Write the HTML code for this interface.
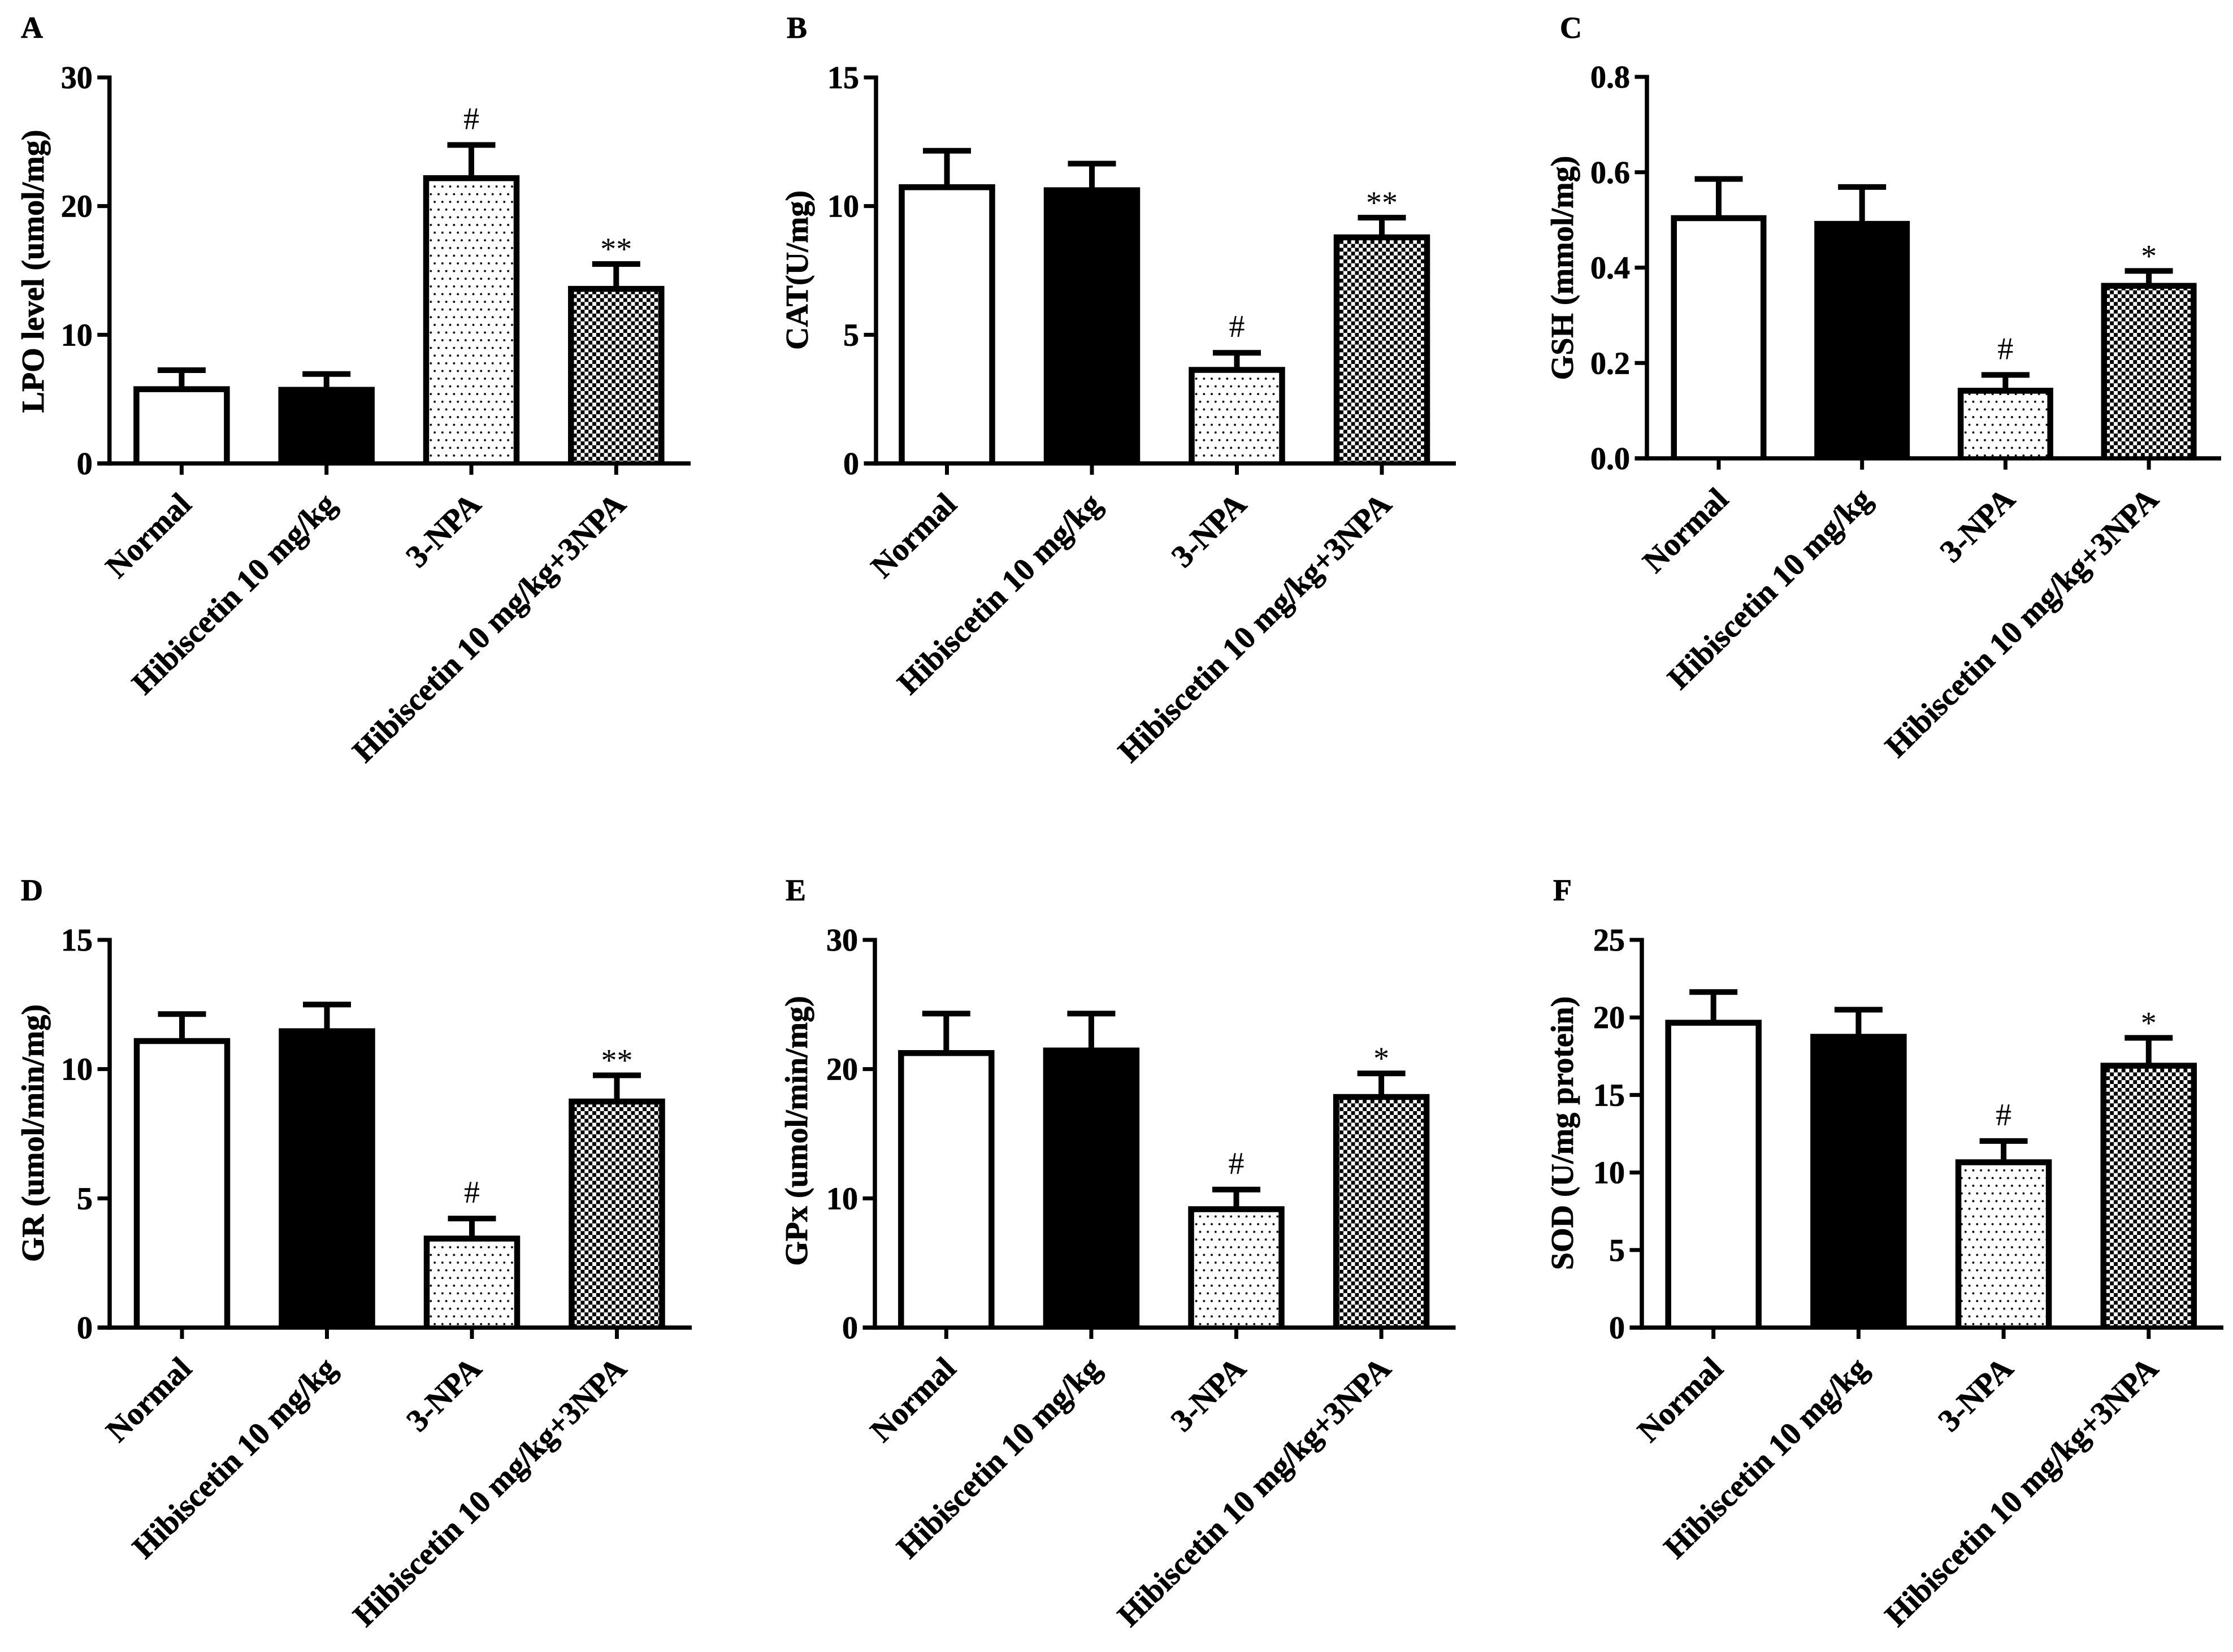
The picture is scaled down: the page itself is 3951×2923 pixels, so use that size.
<!DOCTYPE html>
<html lang="en">
<head>
<meta charset="utf-8">
<title>Oxidative stress markers</title>
<style>
  html, body { margin: 0; padding: 0; background: #fff; }
  svg { display: block; }
  text { font-family: "Liberation Serif", "DejaVu Serif", serif; fill: #000; }
  text[font-weight="bold"] { stroke: #000; stroke-width: 0.8px; }
</style>
</head>
<body>
<svg id="fig" xmlns="http://www.w3.org/2000/svg" width="3951" height="2923" viewBox="0 0 3951 2923">
  <defs>
    <pattern id="dots" patternUnits="userSpaceOnUse" x="758.9" y="326.6" width="13.68" height="27.2">
      <rect width="13.68" height="27.2" fill="#fff"/>
      <circle cx="10.24" cy="3.4" r="1.9" fill="#000"/>
      <circle cx="3.4" cy="17" r="1.9" fill="#000"/>
    </pattern>
    <pattern id="checker" patternUnits="userSpaceOnUse" x="0" y="0" width="13.7" height="13.7">
      <rect width="13.7" height="13.7" fill="#fff"/>
      <rect x="0" y="0" width="6.85" height="6.85" fill="#000"/>
      <rect x="6.85" y="6.85" width="6.85" height="6.85" fill="#000"/>
    </pattern>
  </defs>
</svg>
<script>
// ---- chart data ----
const categories = ["Normal", "Hibiscetin 10 mg/kg", "3-NPA", "Hibiscetin 10 mg/kg+3NPA"];

const lpoValues = [6.0, 5.95, 22.4, 13.8];
const lpoErrorTops = [7.25, 6.95, 24.75, 15.5];
const lpoTicks = ["0", "10", "20", "30"];
const lpoMarks = ["", "", "#", "**"];

const catValues = [10.85, 10.73, 3.75, 8.9];
const catErrorTops = [12.15, 11.65, 4.3, 9.55];
const catTicks = ["0", "5", "10", "15"];
const catMarks = ["", "", "#", "**"];

const gshValues = [0.51, 0.498, 0.148, 0.368];
const gshErrorTops = [0.586, 0.569, 0.175, 0.393];
const gshTicks = ["0.0", "0.2", "0.4", "0.6", "0.8"];
const gshMarks = ["", "", "#", "*"];

const grValues = [11.2, 11.58, 3.56, 8.86];
const grErrorTops = [12.13, 12.5, 4.22, 9.76];
const grTicks = ["0", "5", "10", "15"];
const grMarks = ["", "", "#", "**"];

const gpxValues = [21.47, 21.67, 9.39, 18.07];
const gpxErrorTops = [24.3, 24.3, 10.68, 19.67];
const gpxTicks = ["0", "10", "20", "30"];
const gpxMarks = ["", "", "#", "*"];

const sodValues = [19.85, 18.94, 10.85, 17.08];
const sodErrorTops = [21.64, 20.5, 12.03, 18.68];
const sodTicks = ["0", "5", "10", "15", "20", "25"];
const sodMarks = ["", "", "#", "*"];

// ---- panel layout ----
const panels = [
  { letter: "A", letterX: 37, letterY: 67, title: "LPO level (umol/mg)", titleX: 77, titleY: 480,
    values: lpoValues, errs: lpoErrorTops, ticks: lpoTicks, marks: lpoMarks,
    axisX: 193.7, top: 137, base: 820, endX: 1222, first: 321.4, step: 256.3, barW: 170.5 },
  { letter: "B", letterX: 1392, letterY: 67, title: "CAT(U/mg)", titleX: 1429, titleY: 478,
    values: catValues, errs: catErrorTops, ticks: catTicks, marks: catMarks,
    axisX: 1550, top: 137, base: 820, endX: 2576, first: 1675.5, step: 256.5, barW: 170.5 },
  { letter: "C", letterX: 2760, letterY: 67, title: "GSH (mmol/mg)", titleX: 2783, titleY: 474,
    values: gshValues, errs: gshErrorTops, ticks: gshTicks, marks: gshMarks,
    axisX: 2914, top: 136, base: 811, endX: 3930, first: 3041, step: 253.7, barW: 169 },
  { letter: "D", letterX: 37, letterY: 1593, title: "GR (umol/min/mg)", titleX: 77, titleY: 2005,
    values: grValues, errs: grErrorTops, ticks: grTicks, marks: grMarks,
    axisX: 194, top: 1663, base: 2349, endX: 1224, first: 322, step: 256.5, barW: 170.5 },
  { letter: "E", letterX: 1390, letterY: 1593, title: "GPx (umol/min/mg)", titleX: 1428, titleY: 2001,
    values: gpxValues, errs: gpxErrorTops, ticks: gpxTicks, marks: gpxMarks,
    axisX: 1548, top: 1663, base: 2349, endX: 2575.5, first: 1674.3, step: 256.6, barW: 170.5 },
  { letter: "F", letterX: 2748, letterY: 1593, title: "SOD (U/mg protein)", titleX: 2783, titleY: 2005,
    values: sodValues, errs: sodErrorTops, ticks: sodTicks, marks: sodMarks,
    axisX: 2905, top: 1663, base: 2349, endX: 3934, first: 3031.7, step: 256.7, barW: 170.5 }
];

const barFills = ["#fff", "#000", "url(#dots)", "url(#checker)"];
const FONT = 56;
const NS = "http://www.w3.org/2000/svg";
const fig = document.getElementById("fig");

function make(parent, tag, attrs, txt) {
  const el = document.createElementNS(NS, tag);
  for (const k in attrs) el.setAttribute(k, attrs[k]);
  if (txt !== undefined) el.textContent = txt;
  parent.appendChild(el);
  return el;
}

panels.forEach(function (p) {
  const maxV = parseFloat(p.ticks[p.ticks.length - 1]);
  const yScale = function (v) { return p.base - (v / maxV) * (p.base - p.top); };
  const xScale = function (i) { return p.first + i * p.step; };

  const g = make(fig, "g", {});
  
  

  const letter = make(g, "text", { x: p.letterX, y: p.letterY, "font-size": 54, "font-weight": "bold" }, p.letter);
  
  

  const title = make(g, "text", {
    x: p.titleX, y: p.titleY, "font-size": FONT, "font-weight": "bold", "text-anchor": "middle",
    transform: "rotate(-90 " + p.titleX + " " + p.titleY + ")"
  }, p.title);
  
  

  // bars, error bars, significance marks
  p.values.forEach(function (v, i) {
    const cx = xScale(i);
    const yTop = yScale(v);
    const yErr = yScale(p.errs[i]);

    const stem = make(g, "line", { x1: cx, x2: cx, y1: yErr, y2: yTop + 2, stroke: "#000", "stroke-width": 10 });
    
    

    const cap = make(g, "line", { x1: cx - 42.5, x2: cx + 42.5, y1: yErr, y2: yErr, stroke: "#000", "stroke-width": 10 });
    
    

    // open-bottomed outline: the baseline is provided by the x axis
    const barLeft = cx - p.barW / 2 + 5.25;
    const barRight = cx + p.barW / 2 - 5.25;
    const bar = make(g, "path", {
      d: "M" + barLeft + " " + p.base + " V" + (yTop + 5.25) + " H" + barRight + " V" + p.base,
      fill: barFills[i], stroke: "#000", "stroke-width": 10.5
    });
    
    

    const mark = p.marks[i];
    if (mark) {
      const off = mark === "#" ? 28 : 8;
      const sig = make(g, "text", { x: cx, y: yErr - off, "font-size": FONT, "text-anchor": "middle" }, mark);
      
      
    }

    const tick = make(g, "line", { x1: cx, x2: cx, y1: p.base, y2: p.base + 20, stroke: "#000", "stroke-width": 7 });
    
    

    const lx = cx + 20;
    const ly = p.base + 76;
    const label = make(g, "text", {
      x: lx, y: ly, "font-size": 56.3, "font-weight": "bold", "text-anchor": "end",
      transform: "rotate(-44.5 " + lx + " " + ly + ")"
    }, categories[i]);
    
    
  });

  // axes
  const xAxis = make(g, "line", { x1: p.axisX - 21.5, x2: p.endX, y1: p.base, y2: p.base, stroke: "#000", "stroke-width": 7.5 });
  
  

  const yAxis = make(g, "line", { x1: p.axisX, x2: p.axisX, y1: p.top - 3.5, y2: p.base + 3.75, stroke: "#000", "stroke-width": 7.5 });
  
  

  p.ticks.forEach(function (t) {
    const y = yScale(parseFloat(t));
    const tk = make(g, "line", { x1: p.axisX - 21.5, x2: p.axisX, y1: y, y2: y, stroke: "#000", "stroke-width": 7 });
    
    

    const lab = make(g, "text", { x: p.axisX - 30, y: y + 19, "font-size": FONT, "font-weight": "bold", "text-anchor": "end" }, t);
    
    
  });
});
</script>
</body>
</html>
